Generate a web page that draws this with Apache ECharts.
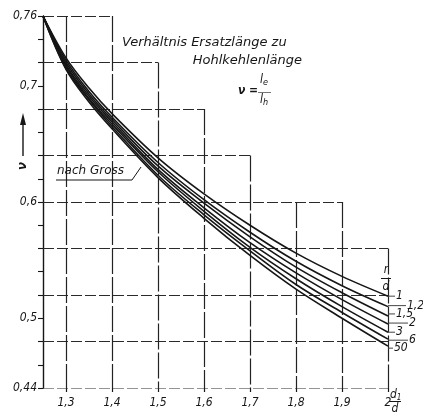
<!DOCTYPE html>
<html>
<head>
<meta charset="utf-8">
<script src="https://cdn.jsdelivr.net/npm/echarts@6/dist/echarts.min.js"></script>
<style>
  html, body { margin: 0; padding: 0; background: #fff; }
  #chart { width: 423px; height: 417px; }
</style>
</head>
<body>
<div id="chart"></div>
<script>
// d1/d values where the curves are sampled
const ratioX = [1.25, 1.3, 1.35, 1.4, 1.5, 1.6, 1.7, 1.8, 1.9, 2.0];

// ν = le / lh for each r/d
const rdNames = ['1', '1,2', '1,5', '2', '3', '6', '50'];
const nuRd1   = [0.760, 0.724, 0.698, 0.676, 0.638, 0.607, 0.580, 0.556, 0.536, 0.519];
const nuRd1_2 = [0.760, 0.722, 0.695, 0.673, 0.634, 0.602, 0.574, 0.549, 0.528, 0.510];
const nuRd1_5 = [0.760, 0.720, 0.693, 0.671, 0.631, 0.599, 0.570, 0.544, 0.522, 0.502];
const nuRd2   = [0.760, 0.718, 0.691, 0.669, 0.628, 0.595, 0.565, 0.539, 0.516, 0.495];
const nuRd3   = [0.760, 0.717, 0.689, 0.667, 0.626, 0.592, 0.561, 0.534, 0.510, 0.488];
const nuRd6   = [0.760, 0.715, 0.688, 0.665, 0.623, 0.589, 0.558, 0.529, 0.505, 0.482];
const nuRd50  = [0.760, 0.714, 0.686, 0.663, 0.621, 0.586, 0.554, 0.525, 0.500, 0.476];
const curves = [nuRd1, nuRd1_2, nuRd1_5, nuRd2, nuRd3, nuRd6, nuRd50];

// axis ticks and labels
const xTickValues = [1.3, 1.4, 1.5, 1.6, 1.7, 1.8, 1.9, 2.0];
const yLabelValues = [0.44, 0.5, 0.6, 0.7, 0.76];
const yTickValues = [0.44, 0.46, 0.48, 0.5, 0.52, 0.54, 0.56, 0.58, 0.6,
                     0.62, 0.64, 0.66, 0.68, 0.7, 0.72, 0.74, 0.76];

// stepped grid: [ν of the rule, d1/d where it ends]
const gridRows = [[0.76, 1.4], [0.72, 1.5], [0.68, 1.6], [0.64, 1.7], [0.60, 1.9],
                  [0.56, 2.0], [0.52, 2.0], [0.48, 2.0], [0.44, 2.0]];
// [d1/d of the rule, ν where it starts]
const gridCols = [[1.3, 0.76], [1.4, 0.76], [1.5, 0.72], [1.6, 0.68], [1.7, 0.64],
                  [1.8, 0.60], [1.9, 0.60], [2.0, 0.56]];

const X_MIN = 1.25, X_MAX = 2.0, Y_MIN = 0.44, Y_MAX = 0.76;
const FONT = '"Liberation Sans Narrow","DejaVu Sans Condensed","Liberation Sans",sans-serif';
const WIDE = '"DejaVu Sans",sans-serif';
const INK = '#161616';

const comma = (v, digits) => {
  let s = v.toFixed(digits);
  if (s.indexOf('.') >= 0) s = s.replace(/0+$/, '').replace(/\.$/, '');
  return s.replace('.', ',');
};

// leader length and vertical nudge of each end label
const leadLen = [7, 18, 7, 20, 7, 20, 5];
const leadDy  = [0, -1, -2, -1, 0, 1, 2];

const curveSeries = curves.map((vals, i) => ({
  type: 'line',
  name: rdNames[i],
  data: ratioX.map((x, j) => [x, vals[j]]),
  smooth: 0.35,
  symbol: 'none',
  z: 5,
  lineStyle: { color: INK, width: 1.6 },
  endLabel: {
    show: true,
    distance: 0,
    offset: [0, leadDy[i]],
    formatter: () => '{lead|}{t|' + rdNames[i] + '}',
    rich: {
      lead: { width: leadLen[i], height: 1, backgroundColor: '#444' },
      t: { fontFamily: FONT, fontStyle: 'italic', fontSize: 12, color: INK, padding: [0, 0, 0, 1] }
    }
  }
}));

const rowLines = gridRows.map(([y, xEnd]) => ({ coords: [[X_MIN, y], [xEnd, y]] }));
const colLines = gridCols.map(([x, yTop]) => ({ coords: [[x, yTop], [x, Y_MIN]] }));

const chart = echarts.init(document.getElementById('chart'), null, { renderer: 'canvas' });

chart.setOption({
  animation: false,
  backgroundColor: '#fff',
  grid: { left: 43, right: 35, top: 16, bottom: 29, containLabel: false },
  xAxis: {
    type: 'value',
    min: X_MIN, max: X_MAX,
    axisLine: { show: false },
    splitLine: { show: false },
    axisTick: { show: true, customValues: xTickValues, length: 4, lineStyle: { color: INK, width: 1.2 } },
    axisLabel: {
      customValues: xTickValues,
      margin: 9,
      fontFamily: FONT, fontStyle: 'italic', fontSize: 12, color: INK,
      formatter: v => comma(v, 1)
    }
  },
  yAxis: {
    type: 'value',
    min: Y_MIN, max: Y_MAX,
    axisLine: { show: true, onZero: false, lineStyle: { color: INK, width: 1.4 } },
    splitLine: { show: false },
    axisTick: { show: true, customValues: yTickValues, length: 5, lineStyle: { color: INK, width: 1.1 } },
    axisLabel: {
      customValues: yLabelValues,
      margin: 6,
      fontFamily: FONT, fontStyle: 'italic', fontSize: 12, color: INK,
      formatter: v => comma(v, 2)
    }
  },
  series: [
    {
      type: 'lines',
      coordinateSystem: 'cartesian2d',
      silent: true,
      z: 1,
      data: rowLines,
      lineStyle: { color: '#2a2a2a', width: 1.2, type: [11, 3], opacity: 1 }
    },
    {
      type: 'lines',
      coordinateSystem: 'cartesian2d',
      silent: true,
      z: 1,
      data: colLines,
      lineStyle: { color: '#222', width: 1.2, type: [26, 3], opacity: 1 }
    },
    ...curveSeries
  ],
  graphic: [
    // chart heading
    { type: 'text', left: 122, top: 36, z: 10,
      style: { text: 'Verhältnis Ersatzlänge zu', font: 'italic 13px ' + WIDE, fill: INK } },
    { type: 'text', right: 121, top: 54, z: 10,
      style: { text: 'Hohlkehlenlänge', font: 'italic 13px ' + WIDE, fill: INK } },
    // ν = le / lh
    { type: 'text', left: 238, top: 85, z: 10,
      style: { text: 'ν =', font: 'italic bold 12px ' + FONT, fill: INK } },
    { type: 'text', left: 260, top: 74, z: 10,
      style: {
        text: '{a|l}{s|e}',
        rich: { a: { font: 'italic 12px ' + FONT, fill: INK }, s: { font: 'italic 9px ' + FONT, fill: INK, padding: [6, 0, 0, 0] } }
      } },
    { type: 'line', z: 10, shape: { x1: 258, y1: 92.5, x2: 271, y2: 92.5 }, style: { stroke: '#777', lineWidth: 1 } },
    { type: 'text', left: 260, top: 94, z: 10,
      style: {
        text: '{a|l}{s|h}',
        rich: { a: { font: 'italic 12px ' + FONT, fill: INK }, s: { font: 'italic 9px ' + FONT, fill: INK, padding: [6, 0, 0, 0] } }
      } },
    // source note
    { type: 'text', left: 57, top: 165, z: 10,
      style: { text: 'nach Gross', font: 'italic 12px ' + WIDE, fill: INK } },
    { type: 'polyline', z: 10, shape: { points: [[56, 180], [132, 180], [141, 167]] },
      style: { stroke: INK, lineWidth: 1, fill: null } },
    // y-axis symbol with arrow
    { type: 'line', z: 10, shape: { x1: 23, y1: 156, x2: 23, y2: 120 }, style: { stroke: INK, lineWidth: 1.4 } },
    { type: 'polygon', z: 10, shape: { points: [[20, 125], [26, 125], [23, 113]] }, style: { fill: INK } },
    { type: 'text', x: 23, y: 166, rotation: Math.PI / 2, z: 10,
      style: { text: 'ν', font: 'italic bold 13px ' + FONT, fill: INK, align: 'center', verticalAlign: 'middle' } },
    // r/d heading over the curve labels
    { type: 'text', x: 386, y: 270, z: 10,
      style: { text: 'r', font: 'italic 12px ' + FONT, fill: INK, align: 'center', verticalAlign: 'middle' } },
    { type: 'line', z: 10, shape: { x1: 381, y1: 278.5, x2: 391, y2: 278.5 }, style: { stroke: INK, lineWidth: 1 } },
    { type: 'text', x: 386, y: 287, z: 10,
      style: { text: 'd', font: 'italic 12px ' + FONT, fill: INK, align: 'center', verticalAlign: 'middle' } },
    // d1/d beside the x-axis labels
    { type: 'text', left: 390, top: 389, z: 10,
      style: {
        text: '{a|d}{s|1}',
        rich: { a: { font: 'italic 12px ' + FONT, fill: INK }, s: { font: 'italic 8px ' + FONT, fill: INK, padding: [5, 0, 0, 0] } }
      } },
    { type: 'line', z: 10, shape: { x1: 389, y1: 401.5, x2: 401, y2: 401.5 }, style: { stroke: INK, lineWidth: 1 } },
    { type: 'text', x: 395, y: 409, z: 10,
      style: { text: 'd', font: 'italic 12px ' + FONT, fill: INK, align: 'center', verticalAlign: 'middle' } }
  ]
});
</script>
</body>
</html>
